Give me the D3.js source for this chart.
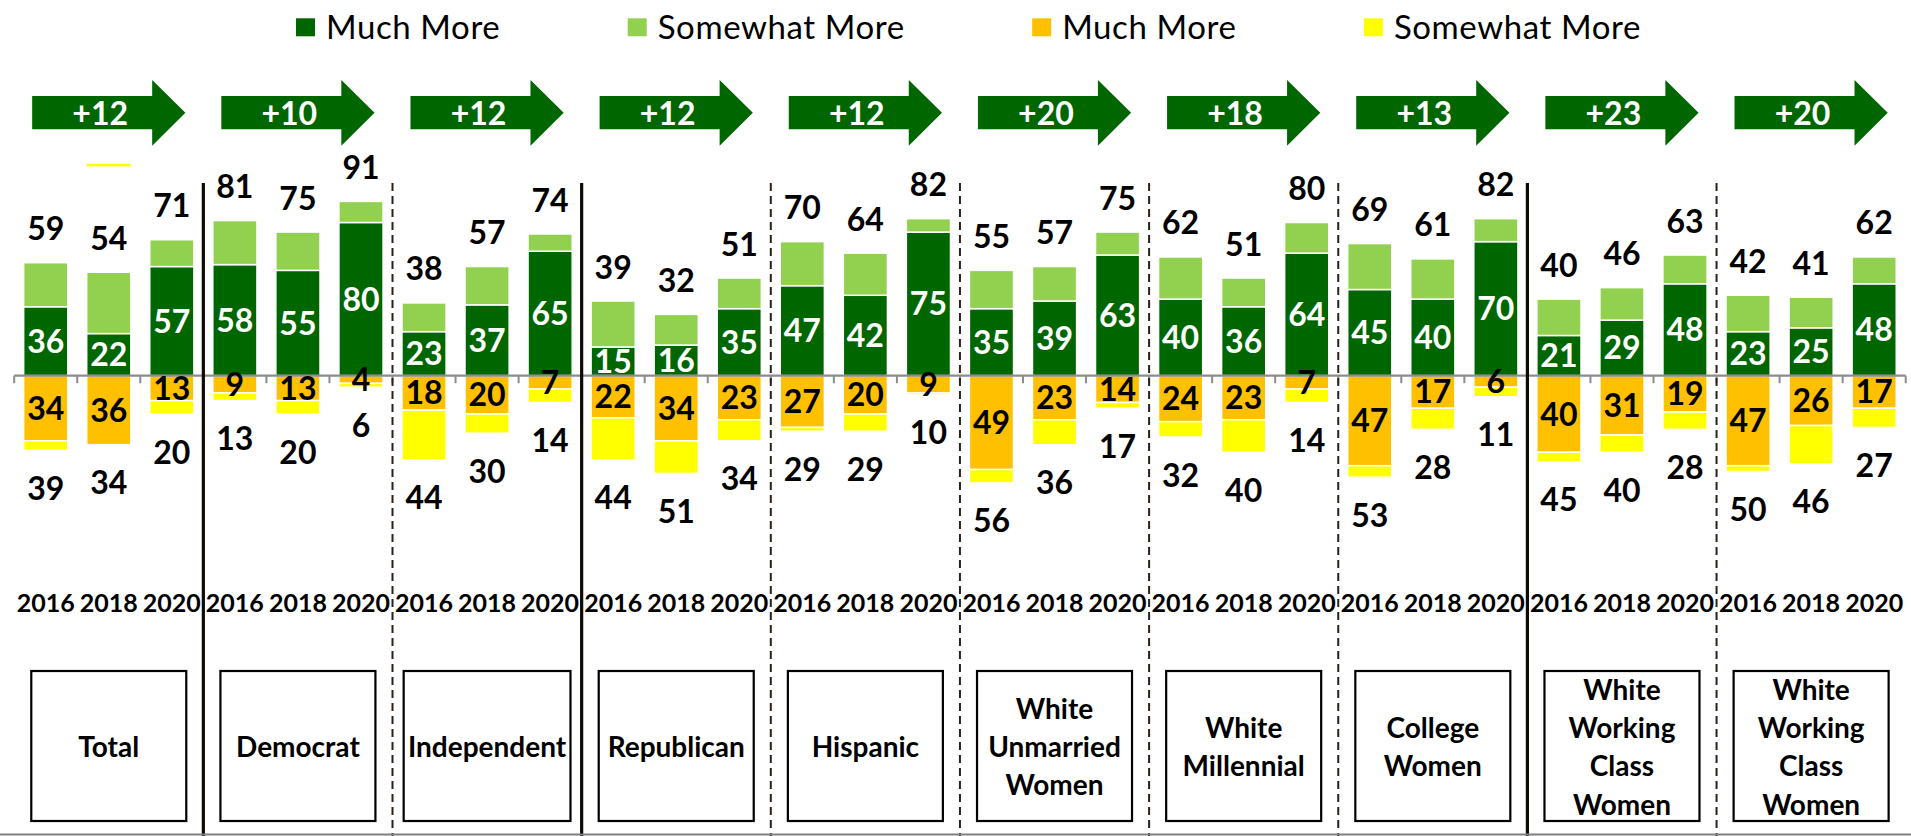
<!DOCTYPE html>
<html><head><meta charset="utf-8">
<script src="https://cdn.jsdelivr.net/npm/d3@7"></script>
<style>
html,body{margin:0;padding:0;background:#fff;}
svg{display:block;font-family:Lato,"Open Sans",sans-serif;}
</style></head><body>
<svg id="chart" width="1911" height="836"></svg>
<script>
// ---------------- DATA ----------------
const groups = ["Total","Democrat","Independent","Republican","Hispanic","White Unmarried Women","White Millennial","College Women","White Working Class Women","White Working Class Women"];
const years = ["2016","2018","2020"];
const muchMorePos     = [[36,22,57],[58,55,80],[23,37,65],[15,16,35],[47,42,75],[35,39,63],[40,36,64],[45,40,70],[21,29,48],[23,25,48]];
const somewhatMorePos = [[23,32,14],[23,20,11],[15,20,9],[24,16,16],[23,22,7],[20,18,12],[22,15,16],[24,21,12],[19,17,15],[19,16,14]];
const positiveTotals  = [[59,54,71],[81,75,91],[38,57,74],[39,32,51],[70,64,82],[55,57,75],[62,51,80],[69,61,82],[40,46,63],[42,41,62]];
const muchMoreNeg     = [[34,36,13],[9,13,4],[18,20,7],[22,34,23],[27,20,9],[49,23,14],[24,23,7],[47,17,6],[40,31,19],[47,26,17]];
const somewhatMoreNeg = [[5,0,7],[4,7,2],[26,10,7],[22,17,11],[2,9,1],[7,13,3],[8,17,7],[6,11,5],[5,9,9],[3,20,10]];
const negativeTotals  = [[39,34,20],[13,20,6],[44,30,14],[44,51,34],[29,29,10],[56,36,17],[32,40,14],[53,28,11],[45,40,28],[50,46,27]];
const shifts = ["+12","+10","+12","+12","+12","+20","+18","+13","+23","+20"];
const separatorStyles = ["solid","dashed","solid","dashed","dashed","dashed","dashed","solid","dashed"];
const legendLabels = ["Much More","Somewhat More","Much More","Somewhat More"];
const strayMark = {group:0, year:1, value:110};

// ---------------- STYLE ----------------
const C = {dark:"#006600", light:"#92D050", orange:"#FFC000", yellow:"#FFFF00"};
const seriesKeys = ["muchPos","somePos","muchNeg","someNeg"];
const seriesColors = [C.dark, C.light, C.orange, C.yellow];

const svg = d3.select("#chart");
const W = 1911, H = 836;

// rows
const rows = [];
groups.forEach((g, gi) => years.forEach((yr, yi) => rows.push({
  key: gi + "-" + yr, gi, yi, year: yr,
  muchPos: muchMorePos[gi][yi], somePos: somewhatMorePos[gi][yi],
  muchNeg: muchMoreNeg[gi][yi], someNeg: somewhatMoreNeg[gi][yi],
  posLabel: positiveTotals[gi][yi], negLabel: negativeTotals[gi][yi]
})));

const x = d3.scaleBand().domain(rows.map(d => d.key)).range([14.2, 1905.7]).paddingInner(0.3).paddingOuter(0.15);
const y = d3.scaleLinear().domain([-100, 100]).range([567.2, 184.2]);
const step = x.step(), x0 = x.range()[0];
const groupStart = gi => x0 + gi * 3 * step;
const groupCenter = gi => groupStart(gi) + 1.5 * step;

const stacked = d3.stack().keys(seriesKeys)
  .value((d, k) => k.endsWith("Neg") ? -d[k] : d[k])
  .offset(d3.stackOffsetDiverging)(rows);

// bars
const gBars = svg.append("g");
stacked.forEach((s, si) => {
  gBars.selectAll(null).data(s.filter(d => d[1] !== d[0])).join("rect")
    .attr("x", d => x(d.data.key))
    .attr("width", x.bandwidth())
    .attr("y", d => y(Math.max(d[0], d[1])))
    .attr("height", d => Math.abs(y(d[0]) - y(d[1])))
    .attr("fill", seriesColors[si])
    .attr("stroke", "#fff").attr("stroke-width", 1.5);
});

// stray yellow mark (artifact in original)
svg.append("rect")
  .attr("x", x(rows[strayMark.group * 3 + strayMark.year].key))
  .attr("width", x.bandwidth())
  .attr("y", y(strayMark.value) - 1.2).attr("height", 2.5)
  .attr("fill", C.yellow);

// axis
const axisY = y(0);
svg.append("line").attr("x1", x0).attr("x2", x.range()[1]).attr("y1", axisY).attr("y2", axisY)
  .attr("stroke", "#8c8c8c").attr("stroke-width", 2.2);
svg.append("g").selectAll("line").data(d3.range(rows.length + 1)).join("line")
  .attr("x1", i => x0 + i * step).attr("x2", i => x0 + i * step)
  .attr("y1", axisY).attr("y2", axisY + 7.5)
  .attr("stroke", "#8c8c8c").attr("stroke-width", 2);

// separators
svg.append("g").selectAll("line").data(separatorStyles).join("line")
  .attr("x1", (d, i) => groupStart(i + 1)).attr("x2", (d, i) => groupStart(i + 1))
  .attr("y1", 183).attr("y2", H)
  .attr("stroke", d => d === "solid" ? "#100a06" : "#2b2118")
  .attr("stroke-width", d => d === "solid" ? 3.2 : 2)
  .attr("stroke-dasharray", d => d === "solid" ? null : "8,5");

// bottom border line
svg.append("line").attr("x1", 0).attr("x2", W).attr("y1", 834.5).attr("y2", 834.5)
  .attr("stroke", "#7f7f7f").attr("stroke-width", 2);

// value labels
const numFont = 32;
const gLab = svg.append("g").attr("font-weight", "bold").attr("font-size", numFont).attr("text-anchor", "middle");
const dark = stacked[0], lite = stacked[1], orng = stacked[2], yel = stacked[3];
gLab.selectAll(null).data(dark).join("text")
  .attr("x", d => x(d.data.key) + x.bandwidth() / 2)
  .attr("y", d => (y(d[0]) + y(d[1])) / 2).attr("dy", "0.36em")
  .attr("fill", "#fff").text(d => d.data.muchPos);
gLab.selectAll(null).data(orng).join("text")
  .attr("x", d => x(d.data.key) + x.bandwidth() / 2)
  .attr("y", d => (y(d[0]) + y(d[1])) / 2).attr("dy", "0.36em")
  .attr("fill", "#000").text(d => d.data.muchNeg);
gLab.selectAll(null).data(lite).join("text")
  .attr("x", d => x(d.data.key) + x.bandwidth() / 2)
  .attr("y", d => y(d[1]) - 34).attr("dy", "0.36em")
  .attr("fill", "#000").text(d => d.data.posLabel);
gLab.selectAll(null).data(rows).join("text")
  .attr("x", d => x(d.key) + x.bandwidth() / 2)
  .attr("y", (d, i) => y(Math.min(orng[i][0], orng[i][1], yel[i][0], yel[i][1])) + 38).attr("dy", "0.36em")
  .attr("fill", "#000").text(d => d.negLabel);

// year labels
svg.append("g").attr("font-weight", "bold").attr("font-size", 25).attr("text-anchor", "middle")
  .selectAll("text").data(rows).join("text")
  .attr("x", d => x(d.key) + x.bandwidth() / 2).attr("y", 603).attr("dy", "0.36em")
  .attr("fill", "#000").text(d => d.year);

// arrows
const gArr = svg.append("g");
groups.forEach((g, gi) => {
  const s = groupCenter(gi) - 76.6;
  gArr.append("path")
    .attr("d", `M${s},96 L${s + 120},96 L${s + 120},80 L${s + 153.2},112.8 L${s + 120},145.7 L${s + 120},129.3 L${s},129.3 Z`)
    .attr("fill", C.dark);
  gArr.append("text").attr("x", s + 68).attr("y", 113).attr("dy", "0.36em")
    .attr("text-anchor", "middle").attr("font-weight", "bold").attr("font-size", 32)
    .attr("fill", "#fff").text(shifts[gi]);
});

// category boxes
const gBox = svg.append("g");
groups.forEach((g, gi) => {
  const lines = g.split(" ");
  const cx = groupCenter(gi);
  const bg = gBox.append("g");
  const rect = bg.append("rect").attr("y", 671).attr("height", 150)
    .attr("fill", "#fff").attr("stroke", "#000").attr("stroke-width", 2.2);
  const t = bg.append("text").attr("text-anchor", "middle").attr("font-weight", "bold").attr("font-size", 28).attr("fill", "#000");
  const lh = 38.3, cy = 747;
  lines.forEach((ln, li) => {
    t.append("tspan").attr("x", cx).attr("y", cy + (li - (lines.length - 1) / 2) * lh).attr("dy", "0.36em").text(ln);
  });
  const bw = Math.max(155, t.node().getBBox().width + 8);
  rect.attr("x", cx - bw / 2).attr("width", bw);
});

// legend (spread between left and right extents)
const legFont = 33, sq = 19, sqGap = 11, legLeft = 296, legRight = 1641;
const gLeg = svg.append("g");
const items = legendLabels.map((lab, i) => {
  const it = gLeg.append("g");
  it.append("rect").attr("width", sq).attr("height", 18).attr("y", 18.3).attr("fill", seriesColors[i]);
  const t = it.append("text").attr("x", sq + sqGap).attr("y", 27.5).attr("dy", "0.36em")
    .attr("font-size", legFont).attr("letter-spacing", "0.6px").attr("fill", "#000").text(lab);
  return {it, w: sq + sqGap + t.node().getComputedTextLength()};
});
const gap = (legRight - legLeft - d3.sum(items, d => d.w)) / (items.length - 1);
let cur = legLeft;
items.forEach(d => { d.it.attr("transform", `translate(${cur},0)`); cur += d.w + gap; });
</script>
</body></html>
